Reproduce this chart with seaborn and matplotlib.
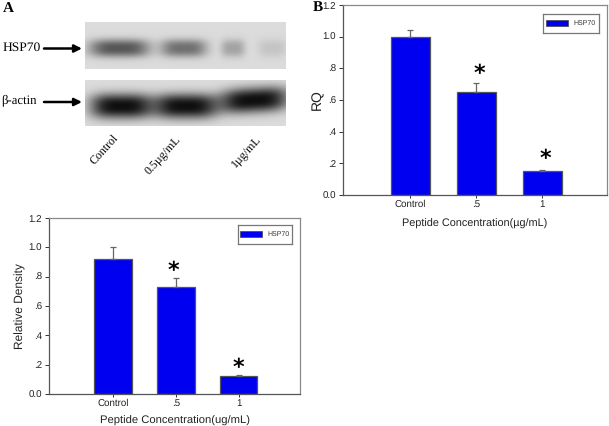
import numpy as np
import pandas as pd
import matplotlib
matplotlib.use("Agg")
import matplotlib.pyplot as plt
from matplotlib.patches import Patch
import seaborn as sns

sns.set_theme(style="white")
plt.rcParams['font.family'] = ['Liberation Sans', 'DejaVu Sans']
plt.rcParams['text.hinting'] = 'none'

W, H = 609, 426
categories = ["Control", ".5", "1"]
density_values = [0.92, 0.73, 0.12]
density_err = [0.08, 0.06, 0.01]
rq_values = [1.0, 0.65, 0.15]
rq_err = [0.04, 0.06, 0.01]
y_ticks = [0, 0.2, 0.4, 0.6, 0.8, 1.0, 1.2]
y_labels = ["0.0", ".2", ".4", ".6", ".8", "1.0", "1.2"]
blot_labels = ["Control", "0.5\u00b5g/mL", "1\u00b5g/mL"]
# (x centre, half width, darkness) of each blot band, in blot-width fractions
hsp70_bands = [(0.17, 0.15, 0.52), (0.49, 0.115, 0.42), (0.735, 0.06, 0.22), (0.93, 0.07, 0.09)]
actin_bands = [(0.18, 0.155, 0.80), (0.50, 0.155, 0.80), (0.84, 0.17, 0.80)]
actin_tilt = [0.56, 0.56, 0.43]

fig = plt.figure(figsize=(W / 100, H / 100), dpi=100)


def axes_px(l, t, r, b):
    return fig.add_axes([l / W, 1 - b / H, (r - l) / W, (b - t) / H])


def bar_chart(box, values, err, ylabel, xlabel, xlim, stars, legend_box, lab_size, x_size, y_pad, x_pad):
    ax = axes_px(*box)
    df = pd.DataFrame({"c": categories, "v": values})
    sns.barplot(data=df, x="c", y="v", color="#0000F0", saturation=1, width=0.6,
                edgecolor="#555555", linewidth=0.9, ax=ax)
    ax.errorbar(range(3), values, yerr=[[0] * 3, err], fmt="none", ecolor="#666666",
                elinewidth=0.9, capsize=2.2, capthick=0.9)
    ax.set_xlim(*xlim)
    ax.set_ylim(0, 1.2)
    ax.set_yticks(y_ticks, y_labels)
    ax.tick_params(left=True, bottom=True, length=3, width=0.7, color="#333333",
                   labelsize=7, pad=2, labelcolor="#222222")
    ax.tick_params(axis="x", pad=1.2, length=2.5)
    ax.set_xlabel(xlabel, fontsize=x_size, color="#222222", labelpad=x_pad)
    ax.set_ylabel(ylabel, fontsize=lab_size, color="#222222", labelpad=y_pad)
    for s in ["left", "bottom"]:
        ax.spines[s].set_color("#555555")
        ax.spines[s].set_linewidth(0.9)
    for s in ["top", "right"]:
        ax.spines[s].set_color("#888888")
        ax.spines[s].set_linewidth(0.9)
    for x, y in stars:
        ax.text(x, y, "*", ha="center", va="center", fontsize=16, color="black",
                fontweight="bold", family="DejaVu Sans")
    lax = axes_px(*legend_box)
    lax.set_xticks([])
    lax.set_yticks([])
    lax.patch.set_facecolor("white")
    for s in lax.spines.values():
        s.set_color("#777777")
        s.set_linewidth(0.9)
    lax.legend(handles=[Patch(facecolor="#0000F0", edgecolor="#444444", linewidth=0.5, label="HSP70")],
               loc="center", fontsize=5, frameon=False, handlelength=3.2, handleheight=0.9,
               borderpad=0, handletextpad=0.8, labelcolor="#333333")
    return ax


bar_chart((49, 218, 300, 394), density_values, density_err, "Relative Density",
          "Peptide Concentration(ug/mL)", (-1.02, 2.98), [(0.96, 0.84), (2.0, 0.175)],
          (238, 225, 292, 244), 8.6, 8.1, 2, 5.5)
bar_chart((343, 5, 607, 195), rq_values, rq_err, "RQ",
          "Peptide Concentration(\u00b5g/mL)", (-1.02, 2.98), [(1.05, 0.761), (2.04, 0.23)],
          (543, 14, 599, 33), 10, 7.8, -1, 7)


def blot(box, bands, tilts=None):
    ax = axes_px(*box)
    h, w = 70, 300
    yy, xx = np.mgrid[0:h, 0:w]
    xf, yf = xx / w, yy / h
    img = np.full((h, w), 0.86)
    for i, (c, hw, d) in enumerate(bands):
        yc = 0.55 if tilts is None else tilts[i]
        sy = 0.19 if tilts is None else 0.27
        slope = 0 if tilts is None or i < 2 else -0.25 * (xf - c)
        shape = np.exp(-np.abs((xf - c) / hw) ** 3.5 - np.abs((yf - yc - slope) / sy) ** 2.5)
        img -= d * shape
    ax.imshow(np.clip(img, 0.05, 1), cmap="gray", vmin=0, vmax=1, aspect="auto",
              interpolation="bilinear")
    ax.axis("off")


blot((85, 22, 286, 69), hsp70_bands)
blot((85, 80, 286, 126), actin_bands, actin_tilt)

fig.text(3 / W, 1 - 8 / H, "A", fontsize=11, fontweight="bold", family="Liberation Serif",
         ha="left", va="center", color="black")
fig.text(313 / W, 1 - 7 / H, "B", fontsize=11, fontweight="bold", family="Liberation Serif",
         ha="left", va="center", color="black")
fig.text(3 / W, 1 - 48 / H, "HSP70", fontsize=9.7, family="Liberation Serif", ha="left", va="center", color="black")
fig.text(1 / W, 1 - 100 / H, "\u03b2-actin", fontsize=9.2, family="Liberation Serif", ha="left", va="center", color="black")
for y in (48.5, 102):
    fig.add_artist(plt.Annotation("", xy=(82 / W, 1 - y / H), xytext=(44 / W, 1 - y / H),
                                  xycoords="figure fraction", textcoords="figure fraction",
                                  arrowprops=dict(arrowstyle="-|>", color="black", lw=1.8, shrinkA=0,
                                                  shrinkB=0, mutation_scale=11)))
for x, y, t in zip((113, 175, 256), (132, 134, 134), blot_labels):
    fig.text(x / W, 1 - y / H, t, fontsize=8.6, family="Liberation Serif", rotation=48,
             ha="right", va="top", rotation_mode="anchor", color="black")

fig.savefig("out.png", dpi=100)
